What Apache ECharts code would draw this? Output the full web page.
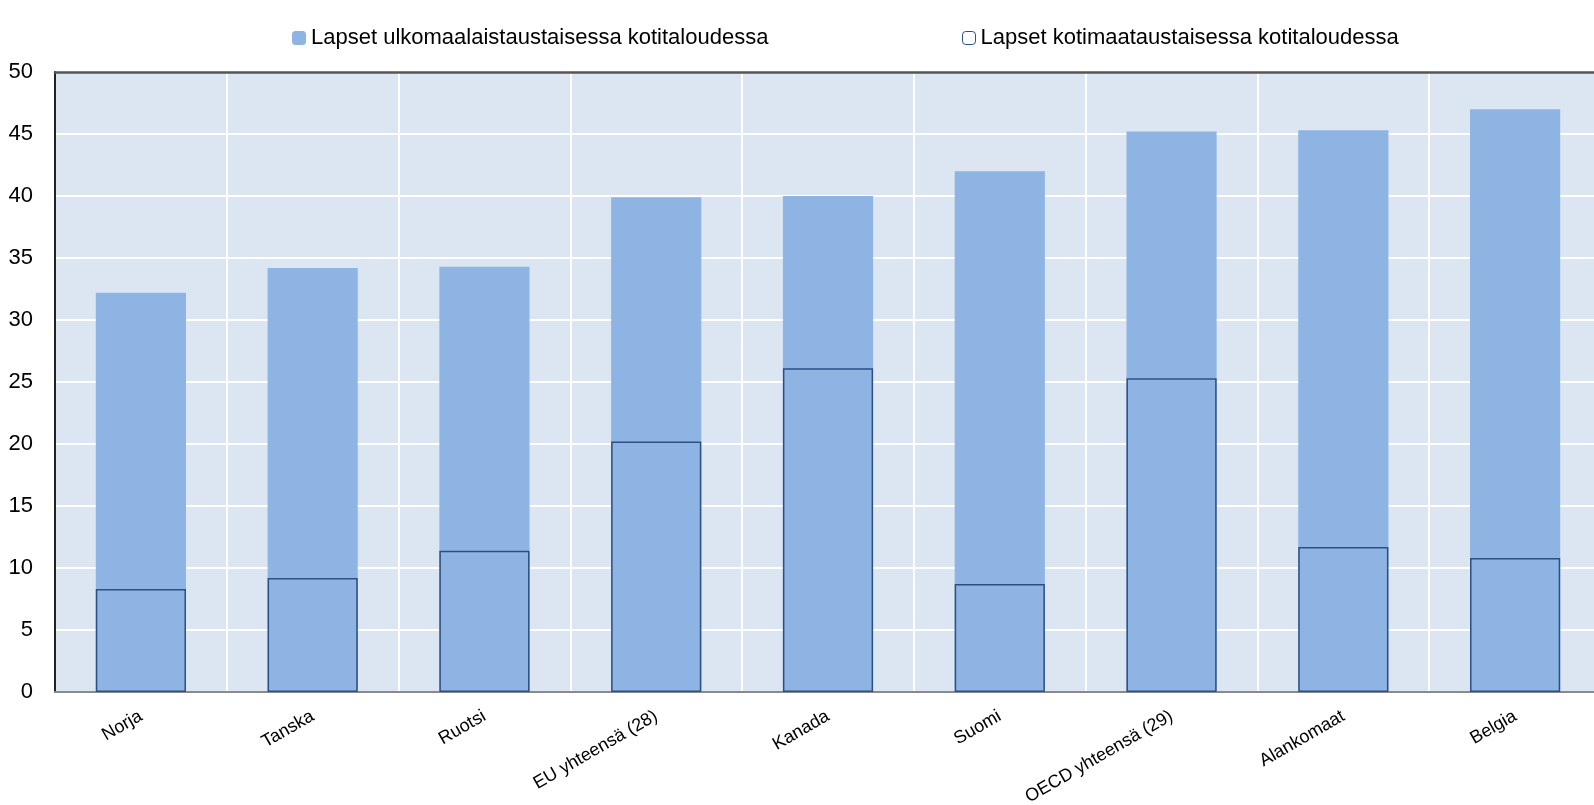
<!DOCTYPE html>
<html>
<head>
<meta charset="utf-8">
<script src="https://cdn.jsdelivr.net/npm/echarts@6/dist/echarts.min.js"></script>
<style>html,body{margin:0;padding:0;background:#fff}#c{width:1594px;height:805px}</style>
</head>
<body>
<div id="c"></div>
<script>
var categories = ['Norja','Tanska','Ruotsi','EU yhteensä (28)','Kanada','Suomi','OECD yhteensä (29)','Alankomaat','Belgia'];
var seriesNames = ['Lapset ulkomaalaistaustaisessa kotitaloudessa','Lapset kotimaataustaisessa kotitaloudessa'];
var foreignValues = [32.2, 34.2, 34.3, 39.9, 40.0, 42.0, 45.2, 45.3, 47.0];
var nativeValues = [8.3, 9.2, 11.4, 20.2, 26.1, 8.7, 25.3, 11.7, 10.8];
var yTicks = [0,5,10,15,20,25,30,35,40,45,50];

var chart = echarts.init(document.getElementById('c'));
var font = 'Liberation Sans, Arial, sans-serif';
chart.setOption({
  animation: false,
  backgroundColor: '#ffffff',
  legend: [
    {data:[seriesNames[0]], left: 287, top: 22, itemWidth: 14, itemHeight: 14, itemGap: 6,
     textStyle:{fontFamily:font, fontSize:22, color:'#000'}},
    {data:[{name:seriesNames[1], itemStyle:{color:'#ffffff', borderColor:'#2C4F86', borderWidth:1}}],
     left: 957, top: 22, itemWidth: 13, itemHeight: 13, itemGap: 6,
     textStyle:{fontFamily:font, fontSize:22, color:'#000'}}
  ],
  grid: {left: 55, top: 72, bottom: 113, right: -7, show: true, backgroundColor: '#DCE6F2', borderWidth: 0,
         containLabel: false, outerBoundsMode: 'none'},
  xAxis: [{
    type: 'category', data: categories, position: 'bottom',
    axisLine: {show: true, lineStyle: {color: '#8a8a8a', width: 2}},
    axisTick: {show: false},
    splitLine: {show: true, lineStyle: {color: '#ffffff', width: 2}},
    axisLabel: {rotate: 30, interval: 0, fontFamily: font, fontSize: 18, color: '#000', margin: 23}
  },{
    type: 'category', data: categories, position: 'top',
    axisLine: {show: true, lineStyle: {color: '#555555', width: 2.5}},
    axisTick: {show: false}, axisLabel: {show: false}, splitLine: {show: false}
  }],
  yAxis: {
    type: 'value', min: yTicks[0], max: yTicks[yTicks.length-1], interval: yTicks[1]-yTicks[0],
    axisLine: {show: true, lineStyle: {color: '#222222', width: 2}},
    axisTick: {show: false},
    splitLine: {show: true, lineStyle: {color: '#ffffff', width: 2}},
    axisLabel: {fontFamily: font, fontSize: 22, color: '#000', margin: 22}
  },
  series: [
    {name: seriesNames[0], type: 'bar', data: foreignValues, barWidth: '52.5%', barGap: '-100%',
     itemStyle: {color: '#8EB4E3'}, z: 2},
    {name: seriesNames[1], type: 'bar', data: nativeValues, barWidth: '52.5%', barGap: '-100%',
     itemStyle: {color: 'rgba(0,0,0,0)', borderColor: '#2C4F86', borderWidth: 1.5}, z: 3}
  ]
});
</script>
</body>
</html>
